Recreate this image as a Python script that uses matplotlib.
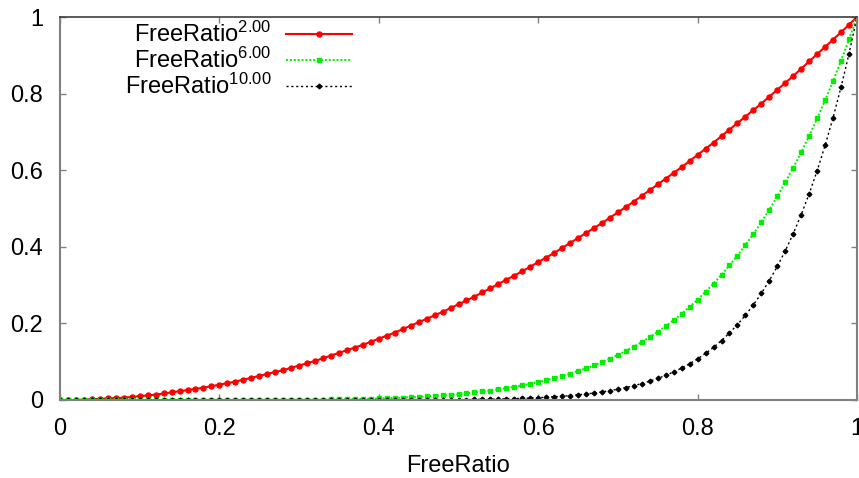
import matplotlib
matplotlib.use('Agg')
import matplotlib.pyplot as plt

plt.rcParams['font.family'] = ['Liberation Sans', 'DejaVu Sans']
plt.rcParams['mathtext.fontset'] = 'custom'
plt.rcParams['mathtext.rm'] = 'Liberation Sans'
plt.rcParams['mathtext.it'] = 'Liberation Sans'
plt.rcParams['mathtext.bf'] = 'Liberation Sans'

# x grid, 0 .. 1 step 0.01
ratio = [0.00, 0.01, 0.02, 0.03, 0.04, 0.05, 0.06, 0.07, 0.08, 0.09,
         0.10, 0.11, 0.12, 0.13, 0.14, 0.15, 0.16, 0.17, 0.18, 0.19,
         0.20, 0.21, 0.22, 0.23, 0.24, 0.25, 0.26, 0.27, 0.28, 0.29,
         0.30, 0.31, 0.32, 0.33, 0.34, 0.35, 0.36, 0.37, 0.38, 0.39,
         0.40, 0.41, 0.42, 0.43, 0.44, 0.45, 0.46, 0.47, 0.48, 0.49,
         0.50, 0.51, 0.52, 0.53, 0.54, 0.55, 0.56, 0.57, 0.58, 0.59,
         0.60, 0.61, 0.62, 0.63, 0.64, 0.65, 0.66, 0.67, 0.68, 0.69,
         0.70, 0.71, 0.72, 0.73, 0.74, 0.75, 0.76, 0.77, 0.78, 0.79,
         0.80, 0.81, 0.82, 0.83, 0.84, 0.85, 0.86, 0.87, 0.88, 0.89,
         0.90, 0.91, 0.92, 0.93, 0.94, 0.95, 0.96, 0.97, 0.98, 0.99,
         1.00]

exp2 = [0.000, 0.000, 0.000, 0.001, 0.002, 0.003, 0.004, 0.005, 0.006, 0.008,
        0.010, 0.012, 0.014, 0.017, 0.020, 0.023, 0.026, 0.029, 0.032, 0.036,
        0.040, 0.044, 0.048, 0.053, 0.058, 0.063, 0.068, 0.073, 0.078, 0.084,
        0.090, 0.096, 0.102, 0.109, 0.116, 0.123, 0.130, 0.137, 0.144, 0.152,
        0.160, 0.168, 0.176, 0.185, 0.194, 0.203, 0.212, 0.221, 0.230, 0.240,
        0.250, 0.260, 0.270, 0.281, 0.292, 0.303, 0.314, 0.325, 0.336, 0.348,
        0.360, 0.372, 0.384, 0.397, 0.410, 0.423, 0.436, 0.449, 0.462, 0.476,
        0.490, 0.504, 0.518, 0.533, 0.548, 0.563, 0.578, 0.593, 0.608, 0.624,
        0.640, 0.656, 0.672, 0.689, 0.706, 0.723, 0.740, 0.757, 0.774, 0.792,
        0.810, 0.828, 0.846, 0.865, 0.884, 0.903, 0.922, 0.941, 0.960, 0.980,
        1.000]

exp6 = [0.0000, 0.0000, 0.0000, 0.0000, 0.0000, 0.0000, 0.0000, 0.0000, 0.0000, 0.0000,
        0.0000, 0.0000, 0.0000, 0.0000, 0.0000, 0.0000, 0.0000, 0.0000, 0.0000, 0.0000,
        0.0001, 0.0001, 0.0001, 0.0001, 0.0002, 0.0002, 0.0003, 0.0004, 0.0005, 0.0006,
        0.0007, 0.0009, 0.0011, 0.0013, 0.0015, 0.0018, 0.0022, 0.0026, 0.0030, 0.0035,
        0.0041, 0.0048, 0.0055, 0.0063, 0.0073, 0.0083, 0.0095, 0.0108, 0.0122, 0.0138,
        0.0156, 0.0176, 0.0198, 0.0222, 0.0248, 0.0277, 0.0308, 0.0343, 0.0381, 0.0422,
        0.0467, 0.0515, 0.0568, 0.0625, 0.0687, 0.0754, 0.0827, 0.0905, 0.0989, 0.1079,
        0.1176, 0.1281, 0.1393, 0.1513, 0.1642, 0.1780, 0.1927, 0.2084, 0.2252, 0.2431,
        0.2621, 0.2824, 0.3040, 0.3269, 0.3513, 0.3772, 0.4046, 0.4336, 0.4644, 0.4970,
        0.5314, 0.5679, 0.6064, 0.6470, 0.6899, 0.7351, 0.7828, 0.8330, 0.8858, 0.9415,
        1.0000]

exp10 = [0.0000, 0.0000, 0.0000, 0.0000, 0.0000, 0.0000, 0.0000, 0.0000, 0.0000, 0.0000,
         0.0000, 0.0000, 0.0000, 0.0000, 0.0000, 0.0000, 0.0000, 0.0000, 0.0000, 0.0000,
         0.0000, 0.0000, 0.0000, 0.0000, 0.0000, 0.0000, 0.0000, 0.0000, 0.0000, 0.0000,
         0.0000, 0.0000, 0.0000, 0.0000, 0.0000, 0.0000, 0.0000, 0.0000, 0.0001, 0.0001,
         0.0001, 0.0001, 0.0002, 0.0002, 0.0003, 0.0003, 0.0004, 0.0005, 0.0006, 0.0008,
         0.0010, 0.0012, 0.0014, 0.0017, 0.0021, 0.0025, 0.0030, 0.0036, 0.0043, 0.0051,
         0.0060, 0.0071, 0.0084, 0.0098, 0.0115, 0.0135, 0.0157, 0.0182, 0.0211, 0.0245,
         0.0282, 0.0326, 0.0374, 0.0430, 0.0492, 0.0563, 0.0643, 0.0733, 0.0834, 0.0947,
         0.1074, 0.1216, 0.1374, 0.1552, 0.1749, 0.1969, 0.2213, 0.2484, 0.2785, 0.3118,
         0.3487, 0.3894, 0.4344, 0.4840, 0.5386, 0.5987, 0.6648, 0.7374, 0.8171, 0.9044,
         1.0000]

labels = ['FreeRatio${}^{2.00}$', 'FreeRatio${}^{6.00}$', 'FreeRatio${}^{10.00}$']
xticks = [0, 0.2, 0.4, 0.6, 0.8, 1]
xticklabels = ['0', '0.2', '0.4', '0.6', '0.8', '1']
yticks = [0, 0.2, 0.4, 0.6, 0.8, 1]
yticklabels = ['0', '0.2', '0.4', '0.6', '0.8', '1']

fig = plt.figure(figsize=(8.59, 4.78), dpi=100)
ax = fig.add_axes([60/859, 1 - 400/478, 797/859, 383/478])

ax.plot(ratio, exp2, color='#ff0000', lw=1.5, marker='o', markersize=3.6,
        label=labels[0])
ax.plot(ratio, exp6, color='#00f000', lw=1.4, ls=(0, (1, 1)), marker='s',
        markersize=3.3, label=labels[1])
ax.plot(ratio, exp10, color='black', lw=1, ls=(0, (1.5, 2)), marker='D',
        markersize=2.4, label=labels[2])

ax.set_xlim(0, 1)
ax.set_ylim(0, 1)
ax.set_xticks(xticks)
ax.set_xticklabels(xticklabels)
ax.set_yticks(yticks)
ax.set_yticklabels(yticklabels)
ax.tick_params(direction='in', top=True, right=True, length=4, width=1,
               color='#808080', labelsize=17)
ax.tick_params(axis='x', pad=13)
ax.tick_params(axis='y', pad=12)
for lbl in ax.get_xticklabels():
    lbl.set_clip_on(False)

for side in ['left', 'bottom', 'right']:
    ax.spines[side].set_color('#808080')
    ax.spines[side].set_linewidth(1.5)
ax.spines['top'].set_color('#404040')
ax.spines['top'].set_linewidth(1.2)

ax.set_xlabel('FreeRatio', fontsize=17, labelpad=11)

leg = ax.legend(loc='upper right', bbox_to_anchor=(352/859, 1 - 22/478),
                bbox_transform=fig.transFigure, markerfirst=False,
                frameon=False, fontsize=17, numpoints=1, handlelength=2.8,
                handletextpad=0.6, labelspacing=0.03, borderpad=0,
                borderaxespad=0)

fig.savefig('out.png', dpi=100)
